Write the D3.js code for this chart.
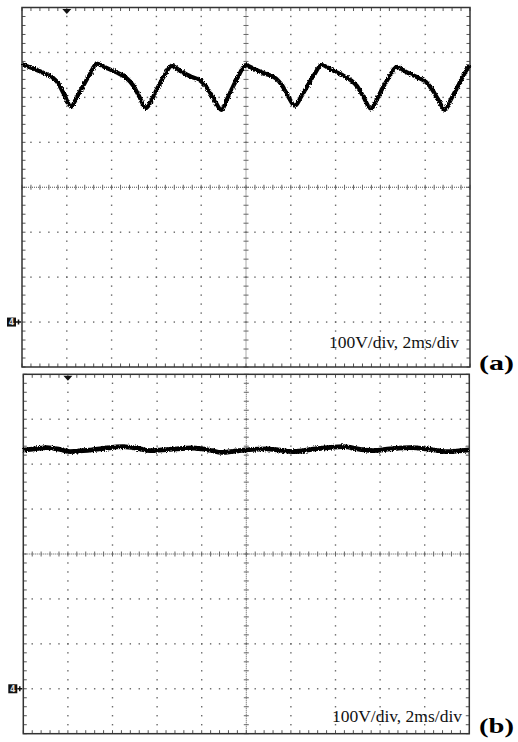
<!DOCTYPE html>
<html>
<head>
<meta charset="utf-8">
<script src="https://d3js.org/d3.v7.min.js"></script>
<style>
  body { margin: 0; background: #fff; }
  svg { display: block; }
</style>
</head>
<body>
<script>
// trace (a): time in ms, voltage in V above the ground marker
var timeA = [0, 0.446, 0.893, 1.339, 1.607, 1.875, 2.188, 2.455, 2.723, 3.036, 3.335,
    3.750, 4.196, 4.643, 4.955, 5.223, 5.536, 5.804, 6.049, 6.339, 6.683,
    7.098, 7.545, 7.991, 8.259, 8.571, 8.906, 9.152, 9.420, 9.688, 9.978,
    10.402, 10.893, 11.339, 11.607, 11.875, 12.188, 12.455, 12.723, 13.036, 13.379,
    13.795, 14.241, 14.688, 14.955, 15.223, 15.580, 15.848, 16.071, 16.384, 16.728,
    17.143, 17.589, 18.036, 18.304, 18.571, 18.884, 19.152, 19.420, 19.688, 19.978];
var voltsA = [574, 565, 556, 545, 532, 507, 480, 501, 525, 552, 575,
    566, 556, 544, 527, 503, 476, 496, 521, 547, 570,
    558, 546, 536, 521, 496, 472, 496, 524, 550, 572,
    562, 552, 542, 527, 503, 481, 501, 524, 550, 572,
    562, 551, 538, 525, 503, 475, 496, 518, 545, 568,
    557, 546, 534, 518, 496, 472, 496, 521, 547, 572];

// trace (b)
var timeB = [0, 0.52, 1.05, 1.65, 2.09, 2.68, 3.44, 4.47, 5.23, 5.68, 6.58, 7.61, 8.37, 8.90, 9.49, 10.02,
    10.91, 11.51, 12.09, 13.08, 14.34, 15.10, 15.68, 16.44, 17.34, 18.24, 18.99, 19.99];
var voltsB = [531, 534, 537, 533, 528, 530, 534, 539, 534, 530, 533, 536, 531, 526, 529, 532,
    534, 531, 528, 534, 539, 533, 530, 534, 537, 533, 528, 532];

var panelNames = ["(a)", "(b)"];
var scaleText = "100V/div, 2ms/div";
var timeDomain = [0, 20];     // 10 div x 2 ms
var voltDomain = [-100, 700]; // 8 div x 100 V

var svgWidth = 518;
var svgHeight = 742;
var serif = "'Liberation Serif', 'Times New Roman', serif";

var svg = d3.select("body")
    .append("svg")
    .attr("width", svgWidth)
    .attr("height", svgHeight);

// scope noise on the traces
var filter = svg.append("defs").append("filter")
    .attr("id", "noise")
    .attr("x", "-5%").attr("y", "-50%")
    .attr("width", "110%").attr("height", "200%");
filter.append("feTurbulence")
    .attr("type", "fractalNoise")
    .attr("baseFrequency", "0.9 0.6")
    .attr("numOctaves", 2)
    .attr("seed", 3)
    .attr("result", "turb");
filter.append("feDisplacementMap")
    .attr("in", "SourceGraphic")
    .attr("in2", "turb")
    .attr("scale", 3.5)
    .attr("xChannelSelector", "R")
    .attr("yChannelSelector", "G");

var panels = [
    {left: 22, top: 7.5, width: 448, height: 359.5, t: timeA, v: voltsA, name: panelNames[0],
        textX: 459, textY: 348, nameY: 370, stroke: 4.2},
    {left: 23.3, top: 374.3, width: 446, height: 359.4, t: timeB, v: voltsB, name: panelNames[1],
        textX: 462, textY: 721.5, nameY: 733, stroke: 4.8}
];

function drawPanel(p) {
    var x = d3.scaleLinear().domain(timeDomain).range([p.left, p.left + p.width]);
    var y = d3.scaleLinear().domain(voltDomain).range([p.top + p.height, p.top]);
    var g = svg.append("g");

    var xMajor = d3.range(0, 11).map(i => i * 2);
    var xMinor = d3.range(0, 51).map(i => i * 0.4);
    var yMajor = d3.range(0, 9).map(i => -100 + i * 100);
    var yMinor = d3.range(0, 41).map(i => -100 + i * 20);
    var xMid = 10, yMid = 300;

    // dotted graticule
    xMajor.slice(1, -1).filter(t => t !== xMid).forEach(function(t) {
        g.selectAll(null)
        .data(yMinor.slice(1, -1))
        .enter()
        .append("rect")
        .attr("x", x(t) - 0.7)
        .attr("y", d => y(d) - 0.7)
        .attr("width", 1.4)
        .attr("height", 1.4)
        .attr("fill", "#666");
    });
    yMajor.slice(1, -1).filter(v => v !== yMid).forEach(function(v) {
        g.selectAll(null)
        .data(xMinor.slice(1, -1))
        .enter()
        .append("rect")
        .attr("x", d => x(d) - 0.7)
        .attr("y", y(v) - 0.7)
        .attr("width", 1.4)
        .attr("height", 1.4)
        .attr("fill", "#666");
    });

    // centre cross with minor ticks
    g.append("line")
        .attr("x1", x(xMid)).attr("x2", x(xMid))
        .attr("y1", p.top).attr("y2", p.top + p.height)
        .attr("stroke", "#555").attr("stroke-width", 1)
        .attr("stroke-dasharray", "1,1");
    g.append("line")
        .attr("x1", p.left).attr("x2", p.left + p.width)
        .attr("y1", y(yMid)).attr("y2", y(yMid))
        .attr("stroke", "#555").attr("stroke-width", 1)
        .attr("stroke-dasharray", "1,1");
    g.selectAll(null)
        .data(yMinor)
        .enter()
        .append("line")
        .attr("x1", x(xMid) - 2.5).attr("x2", x(xMid) + 2.5)
        .attr("y1", d => y(d)).attr("y2", d => y(d))
        .attr("stroke", "#666").attr("stroke-width", 1);
    g.selectAll(null)
        .data(xMinor)
        .enter()
        .append("line")
        .attr("x1", d => x(d)).attr("x2", d => x(d))
        .attr("y1", y(yMid) - 2.5).attr("y2", y(yMid) + 2.5)
        .attr("stroke", "#666").attr("stroke-width", 1);

    // border ticks
    [p.top, p.top + p.height].forEach(function(edge, i) {
        g.selectAll(null)
        .data(xMinor)
        .enter()
        .append("line")
        .attr("x1", d => x(d)).attr("x2", d => x(d))
        .attr("y1", edge).attr("y2", i === 0 ? edge + 3.5 : edge - 3.5)
        .attr("stroke", "#555").attr("stroke-width", 1);
    });
    [p.left, p.left + p.width].forEach(function(edge, i) {
        g.selectAll(null)
        .data(yMinor)
        .enter()
        .append("line")
        .attr("x1", edge).attr("x2", i === 0 ? edge + 3.5 : edge - 3.5)
        .attr("y1", d => y(d)).attr("y2", d => y(d))
        .attr("stroke", "#555").attr("stroke-width", 1);
    });

    // frame
    g.append("rect")
        .attr("x", p.left).attr("y", p.top)
        .attr("width", p.width).attr("height", p.height)
        .attr("fill", "none")
        .attr("stroke", "#333")
        .attr("stroke-width", 1.5);

    // trigger marker
    var tx = x(2);
    g.append("path")
        .attr("d", `M${tx - 4.5},${p.top + 1.5}L${tx + 4.5},${p.top + 1.5}L${tx},${p.top + 6.5}Z`)
        .attr("fill", "#111");

    // ground marker
    var gy = y(0);
    g.append("rect")
        .attr("x", p.left - 15).attr("y", gy - 4.5)
        .attr("width", 9).attr("height", 9)
        .attr("fill", "#111");
    g.append("text")
        .attr("x", p.left - 10.5).attr("y", gy + 3)
        .attr("text-anchor", "middle")
        .attr("font-family", "DejaVu Sans")
        .attr("font-size", "8px")
        .attr("font-weight", "bold")
        .attr("fill", "#ddd")
        .text("4");
    g.append("path")
        .attr("d", `M${p.left - 6},${gy}L${p.left - 1},${gy}M${p.left - 3.5},${gy - 2.5}L${p.left - 3.5},${gy + 2.5}`)
        .attr("stroke", "#111").attr("stroke-width", 1.5);

    // trace
    var line = d3.line()
        .x(d => x(d[0]))
        .y(d => y(d[1]))
        .curve(d3.curveMonotoneX);
    g.append("path")
        .datum(d3.zip(p.t, p.v))
        .attr("d", line)
        .attr("fill", "none")
        .attr("stroke", "#000")
        .attr("stroke-width", p.stroke)
        .attr("stroke-linejoin", "round")
        .attr("filter", "url(#noise)");

    // scale text
    g.append("text")
        .attr("x", p.textX).attr("y", p.textY)
        .attr("text-anchor", "end")
        .attr("font-family", serif)
        .attr("font-size", "17.5px")
        .attr("fill", "#111")
        .text(scaleText);

    // panel name
    svg.append("text")
        .attr("x", 479).attr("y", p.nameY)
        .attr("font-family", serif)
        .attr("font-size", "22px")
        .attr("font-weight", "bold")
        .attr("textLength", 35)
        .attr("lengthAdjust", "spacingAndGlyphs")
        .text(p.name);
}

panels.forEach(drawPanel);
</script>
</body>
</html>
